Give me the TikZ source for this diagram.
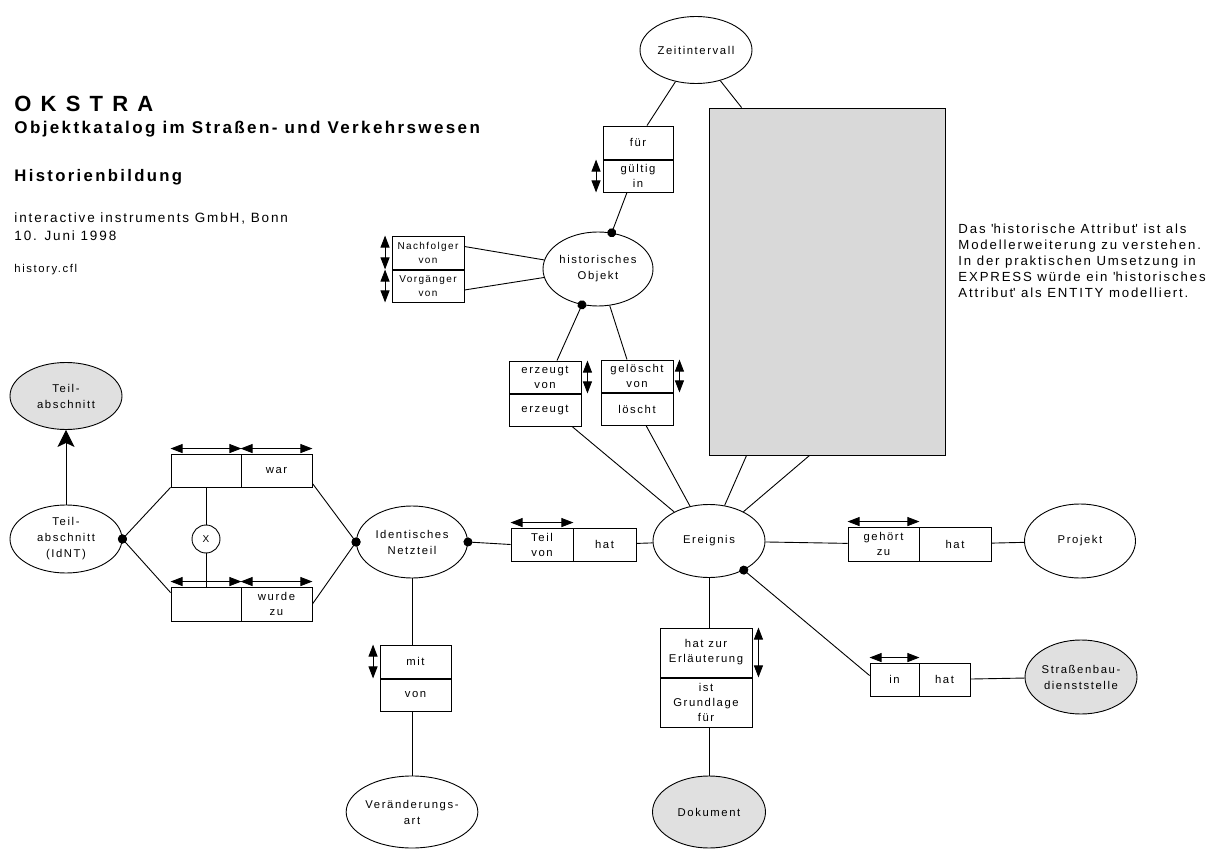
\documentclass[tikz,border=0pt]{standalone}
\usepackage{fontspec}
\setmainfont{Liberation Sans}[LetterSpace=14]
\usepackage{tikz}
\usetikzlibrary{arrows.meta}
\usetikzlibrary{shapes.geometric}
\usetikzlibrary{calc}
\definecolor{entgray}{RGB}{224,224,224}
\definecolor{notegray}{RGB}{217,217,217}
\tikzstyle{entity}=[ellipse,draw,inner sep=0pt,align=center,font=\fontsize{11.3}{16}\selectfont]
\tikzstyle{grayentity}=[entity,fill=entgray]
\tikzstyle{cell}=[rectangle,draw,inner sep=0pt,align=center,font=\fontsize{11.3}{15}\selectfont]
\tikzstyle{smallcell}=[cell,font=\fontsize{10}{14}\selectfont]
\tikzstyle{edge} = [draw]
\tikzstyle{dotedge} = [draw,-{Circle[length=9pt]},shorten >=-4.5pt]
\tikzstyle{dirarrow} = [draw,{Triangle[length=12pt,width=9pt]}-{Triangle[length=12pt,width=9pt]}]
\tikzstyle{isa} = [draw,-{Stealth[length=17pt,width=17pt,inset=4pt]}]
\tikzstyle{titletext}=[anchor=base west,inner sep=0pt]

\begin{document}
\begin{tikzpicture}[x=1pt,y=-1pt,line width=0.9pt]

 \useasboundingbox (0,0) rectangle (1224,850);

 %Titel
 \node[titletext,font=\fontsize{22}{24}\selectfont\bfseries] (okstra) at (14,111.5) {O K S T R A};
 \node[titletext,font=\fontsize{17}{19}\selectfont\bfseries] (katalog) at (14,134) {Objektkatalog im Straßen- und Verkehrswesen};
 \node[titletext,font=\fontsize{16.7}{19}\selectfont\bfseries] (thema) at (14,182) {Historienbildung};
 \node[titletext,font=\fontsize{13.5}{18}\selectfont] (firma) at (14,223) {interactive instruments GmbH, Bonn};
 \node[titletext,font=\fontsize{13.5}{18}\selectfont] (datum) at (14,241) {10. Juni 1998};
 \node[titletext,font=\fontsize{11.3}{14}\selectfont] (datei) at (14,273) {history.cfl};

 %Anmerkung
 \node[rectangle,draw,fill=notegray,minimum width=236,minimum height=347,inner sep=0pt] (note) at (827,281.5) {};

 \foreach \i/\txt in {0/{Das \textquotesingle historische Attribut\textquotesingle\ ist als},
                      1/{Modellerweiterung zu verstehen.},
                      2/{In der praktischen Umsetzung in},
                      3/{EXPRESS würde ein \textquotesingle historisches},
                      4/{Attribut\textquotesingle\ als ENTITY modelliert.}}
          \node[titletext,font=\fontsize{13.2}{16}\selectfont] (notetext\i) at (958,234+16*\i) {\txt};

 %Entitaeten
   \foreach \x/\y/\w/\h/\name/\label in {696/50/112/67/zeit/Zeitintervall, 598/269/110/74/hobj/{historisches\\Objekt},
          66/539/112/68/tabs/{Teil-\\abschnitt\\(IdNT)}, 412/542/111/72/ident/{Identisches\\Netzteil},
          709/541/112/73/ereig/Ereignis, 1080/541/111/74/projekt/Projekt, 412/812/120/72/vart/{Veränderungs-\\art}}
          \node[entity,minimum width=\w,minimum height=\h] (\name) at (\x,\y) {\label};

   \foreach \x/\y/\w/\h/\name/\label in {66/396/112/67/tabsg/{Teil-\\abschnitt}, 1081/677/112/74/sbd/{Straßenbau-\\dienststelle},
          709/812/113/72/dok/Dokument}
          \node[grayentity,minimum width=\w,minimum height=\h] (\name) at (\x,\y) {\label};

 \node[circle,draw,minimum size=28,inner sep=0pt,font=\fontsize{10}{12}\selectfont] (xor) at (206,539) {X};

 %Beziehungen
   \foreach \x/\y/\w/\h/\name/\label in {638/142.5/70/33/fuer/für, 638/176/70/32/gueltig/{gültig\\in},
          545/377/72/32/erzv/{erzeugt\\von}, 545/410/72/32/erz/erzeugt,
          637/376/72/32/gelv/{gelöscht\\von}, 637/409/72/32/loescht/löscht,
          206/470.5/70/33/warL/{}, 276.5/470.5/71/33/warR/war,
          206/604/70/34/wurdeL/{}, 276.5/604/71/34/wurdeR/{wurde\\zu},
          542/544.5/62/33/teilvon/{Teil\\von}, 604.5/544.5/63/33/hatA/hat,
          883.5/544/71/34/gehoert/{gehört\\zu}, 955/544/72/34/hatB/hat,
          894.5/679.5/49/33/inbox/in, 944.5/679.5/51/33/hatC/hat,
          415.5/661.5/71/33/mit/mit, 415.5/695/71/32/von/von,
          706/652.5/92/49/erl/{hat zur\\Erläuterung}, 706/702.5/92/49/grund/{ist\\Grundlage\\für}}
          \node[cell,minimum width=\w,minimum height=\h] (\name) at (\x,\y) {\label};

   \foreach \x/\y/\w/\h/\name/\label in {428/252.5/72/33/nachf/{Nachfolger\\von}, 428/286/72/32/vorg/{Vorgänger\\von}}
          \node[smallcell,minimum width=\w,minimum height=\h] (\name) at (\x,\y) {\label};

 %Leserichtung
  \foreach \name in {warL,warR,wurdeL,wurdeR,teilvon,gehoert,inbox}
         \path[dirarrow] ([yshift=5]\name.north west) -- ([yshift=5]\name.north east);
  \foreach \name in {gueltig,nachf,vorg,mit}
         \path[dirarrow] ([xshift=-6.5]\name.north west) -- ([xshift=-6.5]\name.south west);
  \foreach \name in {erzv,gelv,erl}
         \path[dirarrow] ([xshift=6]\name.north east) -- ([xshift=6]\name.south east);

 %Verbindungen
  \path[edge] ([xshift=9]fuer.north) -- (zeit);
  \path[edge] ([xshift=33]note.north west) -- (zeit);
  \path[dotedge] ([xshift=-11]gueltig.south) -- (hobj);
  \path[edge] ([yshift=6]nachf.east) -- (hobj);
  \path[edge] ([yshift=-4]vorg.east) -- (hobj);
  \path[dotedge] ([xshift=12]erzv.north) -- (hobj);
  \path[edge] ([xshift=-10]gelv.north) -- (hobj);
  \path[edge] ([xshift=27]erz.south) -- (ereig);
  \path[edge] ([xshift=9]loescht.south) -- (ereig);
  \path[edge] ([xshift=38]note.south west) -- (ereig);
  \path[edge] ([xshift=101]note.south west) -- (ereig);
  \path[dotedge] ([yshift=4]inbox.west) -- (ereig);
  \path[dotedge] (teilvon.west) -- (ident.east);

  \foreach \source/ \dest in {ereig/gehoert, hatB/projekt, hatC/sbd, hatA/ereig, warL/xor, xor/wurdeL}
         \path[edge] (\source) -- (\dest);

  \path[edge] (ident.south) -- (ident.south |- mit.north);
  \path[edge] (vart.north) -- (vart.north |- von.south);
  \path[edge] (ereig.south) -- (ereig.south |- erl.north);
  \path[edge] (dok.north) -- (dok.north |- grund.south);

  \path[isa] (tabs) -- (tabsg);
  \path[dotedge] (warL.south west) -- (tabs.east);
  \path[dotedge] ([yshift=-6]wurdeL.north west) -- (tabs.east);
  \path[dotedge] ([yshift=4]warR.south east) -- (ident.west);
  \path[dotedge] (wurdeR.east) -- (ident.west);

\end{tikzpicture}
\end{document}
